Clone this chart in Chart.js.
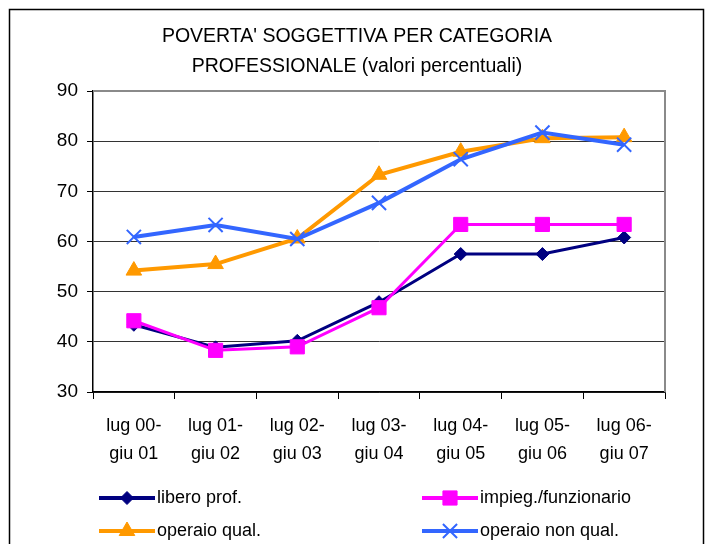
<!DOCTYPE html>
<html>
<head>
<meta charset="utf-8">
<script src="https://cdn.jsdelivr.net/npm/chart.js@4"></script>
<style>
  html, body { margin: 0; padding: 0; background: #fff; }
  #wrap { width: 707px; height: 544px; }
</style>
</head>
<body>
<div id="wrap"><canvas id="povertaChart" width="707" height="544"></canvas></div>
<script>
// categorie (periodi)
const periodLabels = [
    ['lug 00-', 'giu 01'],
    ['lug 01-', 'giu 02'],
    ['lug 02-', 'giu 03'],
    ['lug 03-', 'giu 04'],
    ['lug 04-', 'giu 05'],
    ['lug 05-', 'giu 06'],
    ['lug 06-', 'giu 07']
];

// valori percentuali
const liberoProf = [43.4, 38.9, 40.2, 47.9, 57.5, 57.5, 60.8];
const impiegFunz = [44.2, 38.3, 39.0, 46.8, 63.4, 63.4, 63.4];
const operaioQual = [54.2, 55.5, 60.6, 73.3, 77.9, 80.6, 80.8];
const operaioNonQual = [60.9, 63.3, 60.5, 67.7, 76.4, 81.7, 79.3];

const titleLines = ["POVERTA' SOGGETTIVA PER CATEGORIA", 'PROFESSIONALE (valori percentuali)'];
const yTicks = [30, 40, 50, 60, 70, 80, 90];

const FONT = '"Liberation Sans", Arial, sans-serif';

// sfondo bianco, cornice esterna e titolo centrato sulla pagina
const frameBorder = {
    id: 'frameBorder',
    beforeDraw(chart) {
        const ctx = chart.ctx;
        ctx.save();
        ctx.fillStyle = '#fff';
        ctx.fillRect(0, 0, chart.width, chart.height);
        ctx.strokeStyle = '#000';
        ctx.lineWidth = 1.5;
        ctx.strokeRect(9.5, 9.5, 694, 600);
        ctx.fillStyle = '#000';
        ctx.font = '19.5px ' + FONT;
        ctx.textAlign = 'center';
        ctx.textBaseline = 'middle';
        titleLines.forEach((t, i) => ctx.fillText(t, 357, 37 + i * 30));
        ctx.restore();
    },
    afterDatasetsDraw(chart) {
        // bordo grigio dell'area del grafico (sopra e destra)
        const a = chart.chartArea;
        const ctx = chart.ctx;
        ctx.save();
        ctx.strokeStyle = '#8a8a8a';
        ctx.lineWidth = 2;
        ctx.beginPath();
        ctx.moveTo(a.left, a.top);
        ctx.lineTo(a.right, a.top);
        ctx.lineTo(a.right, a.bottom);
        ctx.stroke();
        ctx.restore();
    }
};

// legenda su due colonne, come in Excel
const twoColLegend = {
    id: 'twoColLegend',
    afterDraw(chart) {
        const ctx = chart.ctx;
        const cols = [99, 422];
        const rows = [498, 531];
        chart.data.datasets.forEach((ds, i) => {
            const x = cols[i % 2];
            const y = rows[Math.floor(i / 2)];
            ctx.save();
            ctx.strokeStyle = ds.borderColor;
            ctx.fillStyle = ds.backgroundColor;
            ctx.lineWidth = 4;
            ctx.beginPath();
            ctx.moveTo(x, y);
            ctx.lineTo(x + 56, y);
            ctx.stroke();
            ctx.lineWidth = ds.pointBorderWidth;
            Chart.helpers.drawPoint(ctx, {
                pointStyle: ds.pointStyle,
                radius: ds.pointRadius,
                rotation: 0,
                borderWidth: ds.pointBorderWidth
            }, x + 28, y);
            ctx.fillStyle = '#000';
            ctx.font = '18px ' + FONT;
            ctx.textBaseline = 'middle';
            ctx.textAlign = 'left';
            ctx.fillText(ds.label, x + 58, y);
            ctx.restore();
        });
    }
};

new Chart(document.getElementById('povertaChart'), {
    type: 'line',
    data: {
        labels: periodLabels,
        datasets: [
            {
                label: 'libero prof.',
                data: liberoProf,
                borderColor: '#000080',
                backgroundColor: '#000080',
                borderWidth: 3,
                pointStyle: 'rectRot',
                pointRadius: 6.5,
                pointBorderWidth: 1,
                order: 4
            },
            {
                label: 'impieg./funzionario',
                data: impiegFunz,
                borderColor: '#ff00ff',
                backgroundColor: '#ff00ff',
                borderWidth: 3,
                pointStyle: 'rect',
                pointRadius: 10,
                pointBorderWidth: 1,
                order: 3
            },
            {
                label: 'operaio qual.',
                data: operaioQual,
                borderColor: '#ff9900',
                backgroundColor: '#ff9900',
                borderWidth: 4,
                pointStyle: 'triangle',
                pointRadius: 9,
                pointBorderWidth: 1,
                order: 2
            },
            {
                label: 'operaio non qual.',
                data: operaioNonQual,
                borderColor: '#3366ff',
                backgroundColor: '#3366ff',
                borderWidth: 4,
                pointStyle: 'crossRot',
                pointRadius: 10,
                pointBorderWidth: 2,
                order: 1
            }
        ]
    },
    options: {
        responsive: false,
        devicePixelRatio: 1,
        animation: false,
        layout: {
            padding: { left: 0, right: 42, top: 91, bottom: 72 }
        },
        elements: {
            line: { tension: 0 }
        },
        plugins: {
            legend: { display: false },
            tooltip: { enabled: false },
            title: { display: false }
        },
        scales: {
            y: {
                min: 30,
                max: 90,
                afterBuildTicks: (scale) => {
                    scale.ticks = yTicks.map(v => ({ value: v }));
                },
                afterFit: (scale) => { scale.width = 93; },
                border: { color: '#000', width: 1.5 },
                grid: {
                    color: (c) => c.tick && c.tick.value === 90 ? '#8a8a8a' : '#333',
                    lineWidth: 1,
                    tickLength: 6,
                    tickColor: '#000'
                },
                ticks: {
                    color: '#000',
                    padding: 9,
                    font: { family: FONT, size: 19 }
                }
            },
            x: {
                offset: true,
                afterFit: (scale) => { scale.height = 80; },
                border: { color: '#000', width: 1.5 },
                grid: {
                    offset: true,
                    drawOnChartArea: false,
                    tickLength: 7,
                    color: '#000'
                },
                ticks: {
                    color: '#000',
                    padding: 13,
                    maxRotation: 0,
                    autoSkip: false,
                    font: { family: FONT, size: 18, lineHeight: 28 / 18 }
                }
            }
        }
    },
    plugins: [frameBorder, twoColLegend]
});
</script>
</body>
</html>
